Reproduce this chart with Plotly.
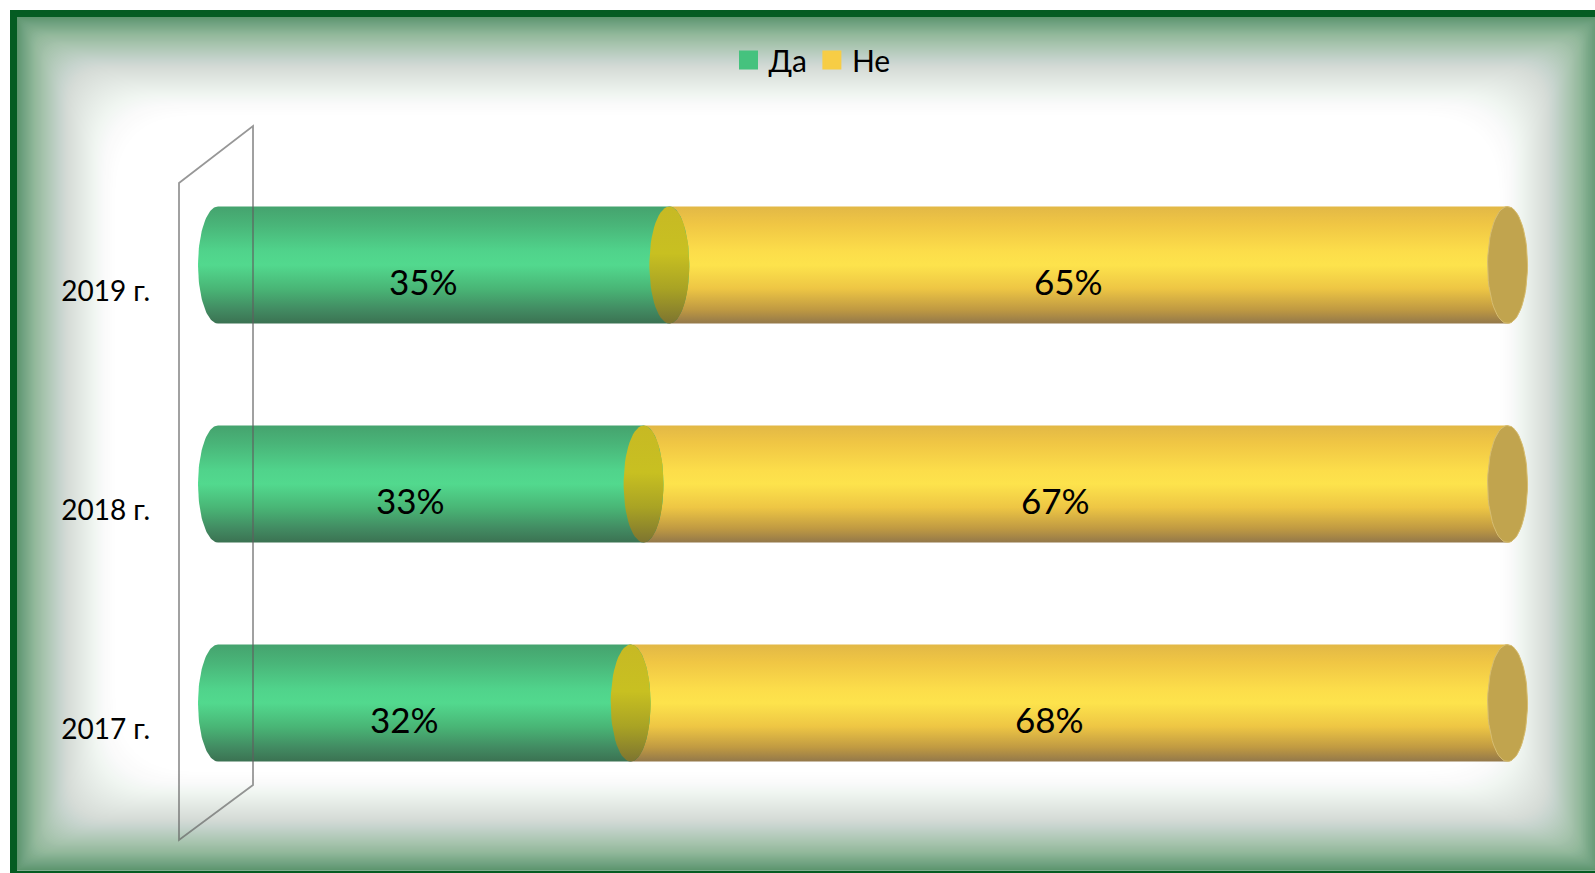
import numpy as np
import plotly.graph_objects as go

# ---- data ----
years = ["2017 г.", "2018 г.", "2019 г."]
da_pct = [32, 33, 35]   # "Да"
ne_pct = [68, 67, 65]   # "Не"
series_names = ["Да", "Не"]

# ---- canvas ----
W, H = 1595, 873
ML = 155                      # left margin holds the year labels
PW = W - ML
FONT = "Lato"

X_RANGE = [-4.886, 106.78]
Y_RANGE = [-0.776, 3.210]
HALF_H = 0.267                # half height of a cylinder (y units)
CAP_A = 1.55                  # half width of an end ellipse (x units)


def px(xp):
    return (xp - ML) / PW


def py(yp):
    return 1 - yp / H


def ellipse(xc, yc, a, b, t0, t1, n=60):
    t = np.linspace(t0, t1, n)
    return xc + a * np.cos(t), yc + b * np.sin(t)


def body(x0, x1, yc):
    # left silhouette (left half-ellipse) + right half-ellipse
    lx, ly = ellipse(x0, yc, CAP_A, HALF_H, np.pi / 2, 3 * np.pi / 2)
    rx, ry = ellipse(x1, yc, CAP_A, HALF_H, -np.pi / 2, np.pi / 2)
    xs = np.concatenate([lx, rx, lx[:1]])
    ys = np.concatenate([ly, ry, ly[:1]])
    return xs, ys


def rounded_rect(x0, y0, x1, y1, r):
    # rounded rectangle path (pixel input -> paper coords)
    def p(a, b):
        return f"{px(a):.6f},{py(b):.6f}"
    return (f"M {p(x0 + r, y0)} L {p(x1 - r, y0)} Q {p(x1, y0)} {p(x1, y0 + r)} "
            f"L {p(x1, y1 - r)} Q {p(x1, y1)} {p(x1 - r, y1)} "
            f"L {p(x0 + r, y1)} Q {p(x0, y1)} {p(x0, y1 - r)} "
            f"L {p(x0, y0 + r)} Q {p(x0, y0)} {p(x0 + r, y0)} Z")


GREEN_SCALE = [[0.0, "#3b7252"], [0.12, "#428b62"], [0.3, "#49b676"],
               [0.5, "#52d98e"], [0.62, "#50d38b"], [0.85, "#49b478"], [1.0, "#45a36e"]]
YELLOW_SCALE = [[0.0, "#93784a"], [0.12, "#c09a42"], [0.3, "#eec644"],
                [0.5, "#fde34c"], [0.62, "#fcdd4a"], [0.85, "#f0c644"], [1.0, "#e2b846"]]
JOINT_SCALE = [[0.0, "#7d7430"], [0.3, "#a9a324"], [0.6, "#c8c021"], [1.0, "#c7b924"]]
END_CAP = "#c1a44e"

fig = go.Figure()

for i, (d, n) in enumerate(zip(da_pct, ne_pct)):
    yc = i
    grad = lambda sc: dict(type="vertical", colorscale=sc, start=yc - HALF_H, stop=yc + HALF_H)

    # "Не" segment
    xs, ys = body(d, d + n, yc)
    fig.add_trace(go.Scatter(x=xs, y=ys, mode="lines", fill="toself", line=dict(width=0),
                             fillgradient=grad(YELLOW_SCALE), hoverinfo="skip", showlegend=False))
    # "Да" segment
    xs, ys = body(0, d, yc)
    fig.add_trace(go.Scatter(x=xs, y=ys, mode="lines", fill="toself", line=dict(width=0),
                             fillgradient=grad(GREEN_SCALE), hoverinfo="skip", showlegend=False))
    # joint face between the two segments
    ex, ey = ellipse(d, yc, CAP_A, HALF_H, 0, 2 * np.pi)
    fig.add_trace(go.Scatter(x=ex, y=ey, mode="lines", fill="toself", line=dict(width=0),
                             fillgradient=grad(JOINT_SCALE), hoverinfo="skip", showlegend=False))
    # right end face
    ex, ey = ellipse(d + n, yc, CAP_A, HALF_H, 0, 2 * np.pi)
    fig.add_trace(go.Scatter(x=ex, y=ey, mode="lines", fill="toself",
                             line=dict(width=1, color="#d6bd72"), fillcolor=END_CAP,
                             hoverinfo="skip", showlegend=False))

    # value labels
    for base, val in ((0, d), (d, n)):
        fig.add_annotation(x=base + val / 2, y=yc, text=f"{val}%", showarrow=False,
                           xshift=-20, yshift=-16, font=dict(family=FONT, size=35, color="#000000"))

# legend entries
for name, col in zip(series_names, ["#45c27e", "#f7cd45"]):
    fig.add_trace(go.Scatter(x=[None], y=[None], mode="markers", name=name,
                             marker=dict(symbol="square", size=16, color=col,
                                         line=dict(width=3, color=col))))

shapes = []

# inner glow of the frame: a green base, then nested rounded white veils
GL = 100
L, T, R, B = 17, 17, 1598, 870


def glow(dist):
    return 0.70 * max(0.0, 1 - dist / GL) ** 2.3


shapes.append(dict(type="rect", xref="paper", yref="paper", layer="below",
                   x0=px(L), x1=px(R), y0=py(T), y1=py(B), line=dict(width=0),
                   fillcolor=f"rgba(25,105,50,{glow(0):.3f})"))
for k in range(GL):
    g0, g1 = glow(k), glow(k + 1)
    a = 1.0 if g1 <= 0 else 1 - g1 / g0
    d = k + 1
    shapes.append(dict(type="path", xref="paper", yref="paper", layer="below",
                       path=rounded_rect(L + d, T + d, R - d, B - d, 0.8 * d),
                       line=dict(width=0), fillcolor=f"rgba(255,255,255,{a:.5f})"))

# frame border
shapes.append(dict(type="rect", xref="paper", yref="paper", layer="above",
                   x0=px(13.5), x1=px(1602), y0=py(13.5), y1=py(874),
                   line=dict(color="#045c22", width=7), fillcolor="rgba(0,0,0,0)"))

# side wall of the 3-D plot
wall = [(179, 183), (253, 126), (253, 785), (179, 840)]
path = "M " + " L ".join(f"{px(a):.5f},{py(b):.5f}" for a, b in wall) + " Z"
shapes.append(dict(type="path", xref="paper", yref="paper", layer="above", path=path,
                   line=dict(color="rgba(95,95,95,0.65)", width=1.8), fillcolor="rgba(0,0,0,0)"))

fig.update_layout(
    width=W, height=H,
    margin=dict(l=ML, r=0, t=0, b=0),
    paper_bgcolor="#ffffff",
    plot_bgcolor="rgba(0,0,0,0)",
    shapes=shapes,
    showlegend=True,
    legend=dict(orientation="h", x=px(812), xanchor="center", y=py(60), yanchor="middle",
                font=dict(family=FONT, size=30, color="#000000"), bgcolor="rgba(0,0,0,0)",
                itemsizing="trace"),
    xaxis=dict(range=X_RANGE, visible=False, fixedrange=True),
    yaxis=dict(range=Y_RANGE, tickvals=[0, 1, 2], ticktext=years, showgrid=False,
               zeroline=False, showline=False, ticks="", ticklabelshift=26,
               ticklabelstandoff=4, tickfont=dict(family=FONT, size=28, color="#000000"),
               fixedrange=True),
    font=dict(family=FONT),
)

fig.write_html("out.html")
